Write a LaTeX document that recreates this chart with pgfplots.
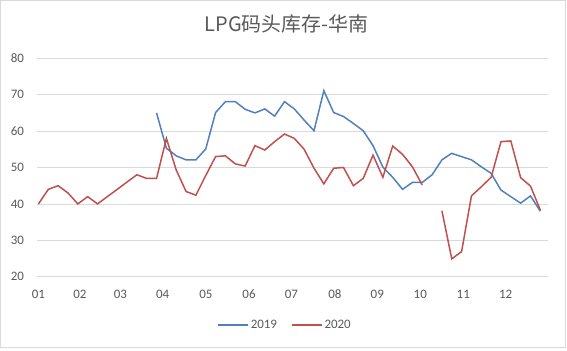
\documentclass[border=0pt]{standalone}
\usepackage{pgfplots}
\pgfplotsset{compat=1.18}
\usepackage{fontspec}
\setmainfont{Carlito}
\newfontfamily\cjk{Noto Sans CJK SC}
\definecolor{txt}{HTML}{595959}
\definecolor{grd}{HTML}{D9D9D9}
\definecolor{cblue}{HTML}{4F81BD}
\definecolor{cred}{HTML}{C0504D}
\begin{document}
\begin{tikzpicture}
\useasboundingbox (0,0) rectangle (567bp,351bp);
\draw[grd, line width=0.75bp] (0.5bp,3.3bp) rectangle (565.5bp,350.5bp);
\node[text=txt, font=\cjk\fontsize{20}{23}\selectfont] at (286.5bp,327bp) {LPG码头库存-华南};
\begin{axis}[
  at={(36.7bp,74.3bp)}, anchor=south west,
  scale only axis, width=511bp, height=218.4bp,
  xmin=-0.18, xmax=51.75, ymin=20, ymax=80,
  ytick={20,30,...,80},
  xtick={0,4.22,8.33,12.62,17.02,21.4,25.7,30.13,34.43,38.8,43.17,47.48},
  xticklabels={01,02,03,04,05,06,07,08,09,10,11,12},
  axis line style={draw=none},
  major tick length=0pt,
  ymajorgrids, grid style={grd, line width=0.75bp},
  /pgf/number format/assume math mode=true,
  tick label style={text=txt, font=\fontsize{13}{15}\selectfont},
  yticklabel style={inner sep=0pt, xshift=-12.5bp},
  xticklabel style={inner sep=0pt, yshift=-13bp, anchor=north},
  unbounded coords=jump,
  legend columns=2,
  legend style={draw=none, fill=none, at={(0.486,-0.221)}, anchor=center,
    font=\fontsize{13}{15}\selectfont, text=txt,
    /tikz/every even column/.append style={column sep=12bp}},
  legend image code/.code={\draw[#1] (0bp,0bp) -- (30bp,0bp);},
]
\addplot[cblue, line width=1.5bp] coordinates {
(12,65) (13,55.3) (14,53.2) (15,52.1) (16,52.1) (17,55.1) (18,65.1) (19,68.1)
(20,68.1) (21,66) (22,65) (23,66.1) (24,64.1) (25,68.1) (26,66.1) (27,63)
(28,60.1) (29,71.1) (30,65.1) (31,64) (32,62.1) (33,60.1) (34,56) (35,50.1)
(36,47.3) (37,44) (38,45.9) (39,45.9) (40,48) (41,52.1) (42,53.9) (43,53)
(44,52.1) (45,50.2) (46,48.4) (47,43.8) (48,42) (49,40.2) (50,42.2) (51,38)
};
\addlegendentry{2019}
\addplot[cred, line width=1.5bp] coordinates {
(0,40) (1,44) (2,45) (3,43) (4,40) (5,42) (6,40) (7,42) (8,44) (9,46)
(10,48) (11,47) (12,47) (13,58) (14,49.3) (15,43.4) (16,42.4) (17,47.8) (18,53) (19,53.2)
(20,51) (21,50.4) (22,56) (23,54.8) (24,57.1) (25,59.2) (26,58) (27,55) (28,49.8) (29,45.5)
(30,49.8) (31,50) (32,45) (33,47) (34,53.4) (35,47.3) (36,55.9) (37,53.6) (38,50.2) (39,45.2)
(40,nan) (41,38.1) (42,24.9) (43,26.9) (44,42.2) (45,44.7) (46,47.3) (47,57.1) (48,57.3) (49,47.2)
(50,44.9) (51,38.3)
};
\addlegendentry{2020}
\end{axis}
\end{tikzpicture}
\end{document}
